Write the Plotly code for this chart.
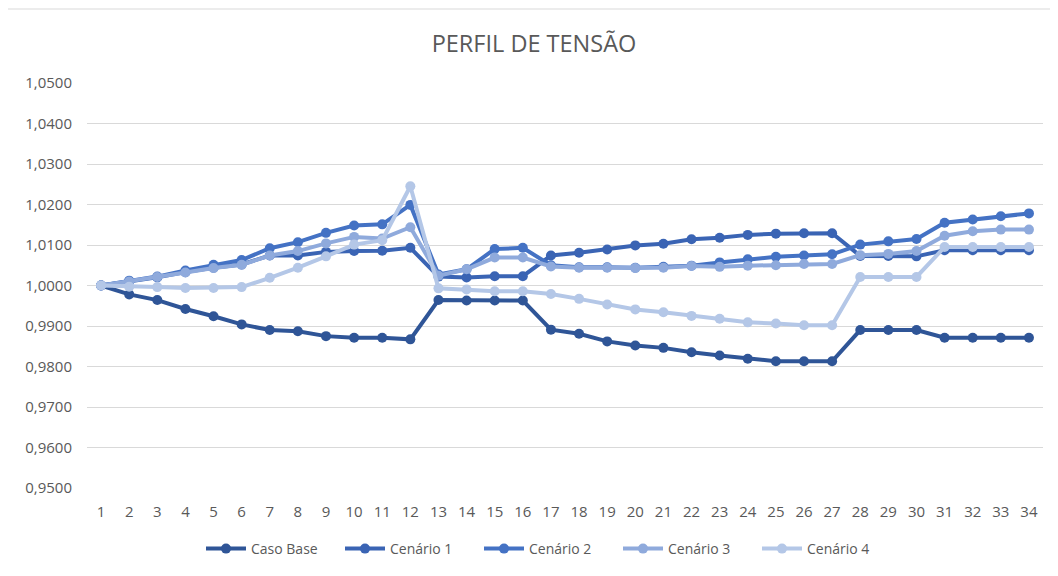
import plotly.graph_objects as go

barras = list(range(1, 35))

caso_base = [1.0000, 0.9978, 0.9964, 0.9942, 0.9924, 0.9904, 0.9890, 0.9887, 0.9875, 0.9871,
             0.9871, 0.9867, 0.9964, 0.9963, 0.9963, 0.9963, 0.9891, 0.9881, 0.9862, 0.9852,
             0.9846, 0.9835, 0.9827, 0.9819, 0.9813, 0.9813, 0.9813, 0.9890, 0.9890, 0.9890,
             0.9871, 0.9871, 0.9871, 0.9871]
cenario_1 = [1.0000, 1.0010, 1.0020, 1.0033, 1.0044, 1.0052, 1.0074, 1.0074, 1.0083, 1.0085,
             1.0086, 1.0093, 1.0022, 1.0020, 1.0023, 1.0023, 1.0074, 1.0081, 1.0089, 1.0099,
             1.0103, 1.0114, 1.0118, 1.0125, 1.0128, 1.0129, 1.0129, 1.0073, 1.0073, 1.0072,
             1.0087, 1.0087, 1.0087, 1.0087]
cenario_2 = [1.0000, 1.0012, 1.0022, 1.0037, 1.0051, 1.0063, 1.0092, 1.0107, 1.0130, 1.0148,
             1.0151, 1.0199, 1.0027, 1.0040, 1.0090, 1.0093, 1.0050, 1.0045, 1.0045, 1.0044,
             1.0046, 1.0049, 1.0057, 1.0065, 1.0071, 1.0074, 1.0077, 1.0101, 1.0109, 1.0115,
             1.0155, 1.0163, 1.0171, 1.0178]
cenario_3 = [1.0000, 1.0010, 1.0021, 1.0032, 1.0043, 1.0051, 1.0074, 1.0085, 1.0104, 1.0120,
             1.0116, 1.0144, 1.0024, 1.0040, 1.0069, 1.0069, 1.0047, 1.0044, 1.0044, 1.0043,
             1.0044, 1.0048, 1.0046, 1.0049, 1.0050, 1.0053, 1.0053, 1.0075, 1.0078, 1.0085,
             1.0123, 1.0134, 1.0138, 1.0138]
cenario_4 = [1.0000, 0.9997, 0.9996, 0.9994, 0.9994, 0.9996, 1.0019, 1.0044, 1.0072, 1.0101,
             1.0112, 1.0245, 0.9993, 0.9990, 0.9986, 0.9986, 0.9979, 0.9967, 0.9953, 0.9941,
             0.9934, 0.9925, 0.9918, 0.9909, 0.9906, 0.9902, 0.9902, 1.0021, 1.0021, 1.0021,
             1.0095, 1.0095, 1.0095, 1.0095]

nomes = ["Caso Base", "Cenário 1", "Cenário 2", "Cenário 3", "Cenário 4"]
series = [caso_base, cenario_1, cenario_2, cenario_3, cenario_4]
cores = ["#2F5597", "#3A64B4", "#4472C4", "#8FAADC", "#B4C7E7"]

fig = go.Figure()
for nome, vals, cor in zip(nomes, series, cores):
    fig.add_trace(go.Scatter(
        x=barras, y=vals, name=nome, mode="lines+markers",
        line=dict(color=cor, width=4),
        marker=dict(color=cor, size=10),
    ))

# page offset of 8px (body margin) compensated in sizes/margins
W, H = 1050, 568
L, R, T, B = 79, 15, 75, 88
PW = W - L - R
PH = H - T - B


def px_x(px):
    return (px - 8 - L) / PW


def px_y(py):
    return (H - B - (py - 8)) / PH


fig.update_layout(
    width=W, height=H,
    margin=dict(l=L, r=R, t=T, b=B, autoexpand=False),
    paper_bgcolor="white", plot_bgcolor="white",
    separators=",.",
    font=dict(family="Open Sans", size=14, color="#595959"),
    title=dict(text="PERFIL DE TENSÃO", x=(534 - 8) / W, xanchor="center",
               y=1 - (44 - 8) / H, yanchor="middle",
               font=dict(family="Open Sans", size=23.5, color="#595959")),
    showlegend=True,
    legend=dict(orientation="h", x=px_x(201), xanchor="left",
                y=px_y(549), yanchor="middle",
                font=dict(size=14, color="#595959"), itemwidth=40,
                entrywidth=84, entrywidthmode="pixels",
                traceorder="normal"),
    shapes=[
        dict(type="line", xref="paper", yref="paper",
             x0=px_x(7), x1=px_x(1080), y0=px_y(9), y1=px_y(9),
             line=dict(color="#D9D9D9", width=1)),
        dict(type="line", xref="paper", yref="paper",
             x0=px_x(7), x1=px_x(7), y0=px_y(9), y1=px_y(600),
             line=dict(color="#D9D9D9", width=1)),
    ],
)
fig.update_xaxes(
    type="linear", range=[0.5, 34.5], tickmode="array", tickvals=barras,
    ticktext=[str(b) for b in barras], showgrid=False, zeroline=False,
    showline=False, ticks="", ticklabelstandoff=13,
    tickfont=dict(size=15, color="#595959"),
)
fig.update_yaxes(
    range=[0.95, 1.05], dtick=0.01, tick0=0.95, tickformat=".4f",
    showgrid=True, gridcolor="#D9D9D9", gridwidth=1, zeroline=False,
    showline=False, ticks="", ticklabelstandoff=14,
    tickfont=dict(size=15, color="#595959"),
)

fig.write_html("out.html")
